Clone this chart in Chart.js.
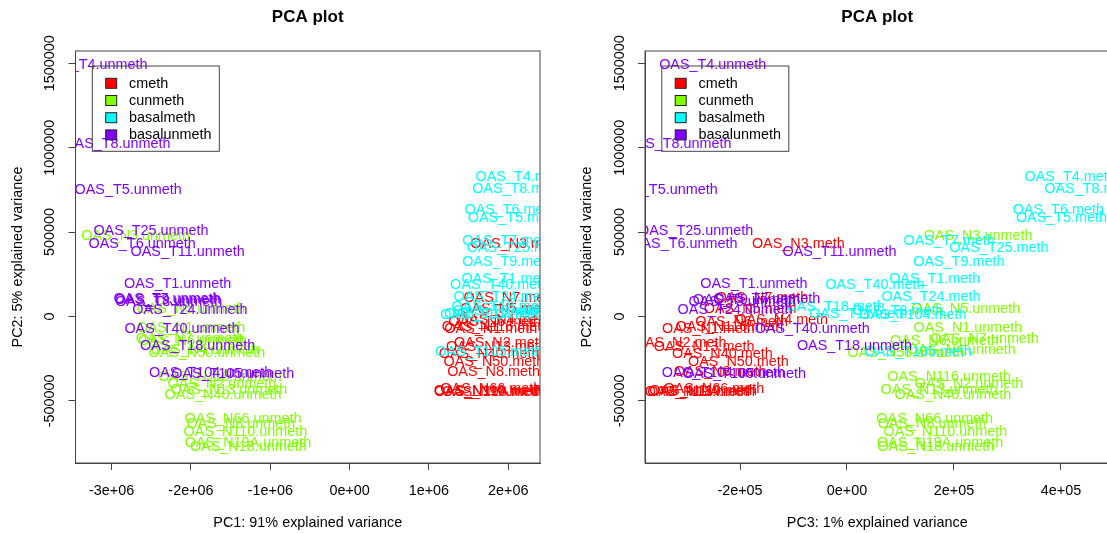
<!DOCTYPE html>
<html>
<head>
<meta charset="utf-8">
<script src="https://cdn.jsdelivr.net/npm/chart.js@4/dist/chart.umd.min.js"></script>
<style>
  html, body { margin: 0; padding: 0; background: #ffffff; overflow: hidden; }
  #wrap { position: relative; width: 1107px; height: 533px; overflow: hidden; background: #fff; }
  canvas { position: absolute; top: 0; }
</style>
</head>
<body>
<div id="wrap">
  <canvas id="c1" width="560" height="533" style="left:0px"></canvas>
  <canvas id="c2" width="560" height="533" style="left:560px"></canvas>
</div>
<script>
// ---------------- DATA ----------------
const groups = ['cmeth', 'cunmeth', 'basalmeth', 'basalunmeth'];
const groupColors = ['#FF0000', '#80FF00', '#00FFFF', '#8000FF'];

const nSamples = ['N3','N7','N5','N4','N6','N1','N116','N2','N13','N40','N50','N8','N66','N110','N19A','N18'];
const tSamples = ['T4','T8','T5','T25','T6','T11','T1','T7','T3','T9','T24','T40','T18','T104','T105'];

// cmeth (N samples, .meth)
const cmethPC1 = [2.107e6, 2.02e6, 1.98e6, 1.95e6, 1.83e6, 1.78e6, 1.84e6, 1.9e6, 1.85e6, 1.76e6, 1.82e6, 1.815e6, 1.78e6, 1.74e6, 1.76e6, 1.8e6];
const cmethPC2 = [0.432e6, 0.11e6, 0.045e6, -0.02e6, -0.03e6, -0.072e6, -0.06e6, -0.157e6, -0.18e6, -0.22e6, -0.27e6, -0.33e6, -0.43e6, -0.44e6, -0.445e6, -0.45e6];
const cmethPC3 = [-0.91e5, -1.59e5, -1.81e5, -1.22e5, -1.97e5, -2.59e5, -2.2e5, -3.12e5, -2.67e5, -2.33e5, -2.03e5, -2.37e5, -2.49e5, -2.69e5, -2.75e5, -2.79e5];

// cunmeth (N samples, .unmeth)
const cunmethPC1 = [-2.697e6, -2.01e6, -2.0e6, -1.827e6, -1.98e6, -2.0e6, -1.634e6, -1.609e6, -1.521e6, -1.596e6, -1.80e6, -1.37e6, -1.344e6, -1.313e6, -1.281e6, -1.277e6];
const cunmethPC2 = [0.478e6, -0.135e6, 0.045e6, -0.2e6, -0.145e6, -0.07e6, -0.36e6, -0.40e6, -0.435e6, -0.468e6, -0.215e6, -0.638e6, -0.606e6, -0.682e6, -0.751e6, -0.775e6];
const cunmethPC3 = [2.45e5, 2.57e5, 2.22e5, 2.14e5, 1.82e5, 2.26e5, 1.91e5, 2.28e5, 1.72e5, 1.98e5, 1.10e5, 1.59e5, 1.64e5, 1.84e5, 1.74e5, 1.66e5];

// basalmeth (T samples, .meth)
const basalmethPC1 = [2.162e6, 2.12e6, 2.066e6, 2.102e6, 2.023e6, 1.81e6, 1.985e6, 1.994e6, 1.88e6, 1.994e6, 1.935e6, 1.893e6, 1.91e6, 1.82e6, 1.757e6];
const basalmethPC2 = [0.825e6, 0.757e6, 0.582e6, 0.404e6, 0.631e6, 0.015e6, 0.223e6, 0.45e6, 0.03e6, 0.32e6, 0.115e6, 0.185e6, 0.058e6, 0.01e6, -0.212e6];
const basalmethPC3 = [4.17e5, 4.54e5, 4.01e5, 2.84e5, 3.95e5, 0.21e5, 1.64e5, 1.91e5, 0.95e5, 2.09e5, 1.57e5, 0.52e5, -0.22e5, 1.23e5, 1.33e5];

// basalunmeth (T samples, .unmeth)
const basalunmethPC1 = [-3.223e6, -2.933e6, -2.793e6, -2.504e6, -2.617e6, -2.042e6, -2.168e6, -2.302e6, -2.28e6, -2.29e6, -2.013e6, -2.113e6, -1.915e6, -1.753e6, -1.473e6];
const basalunmethPC2 = [1.490e6, 1.022e6, 0.749e6, 0.508e6, 0.427e6, 0.382e6, 0.195e6, 0.103e6, 0.087e6, 0.095e6, 0.037e6, -0.073e6, -0.174e6, -0.333e6, -0.34e6];
const basalunmethPC3 = [-2.51e5, -3.16e5, -3.42e5, -2.83e5, -3.05e5, -0.14e5, -1.74e5, -1.50e5, -1.96e5, -1.88e5, -2.09e5, -0.65e5, 0.14e5, -2.31e5, -1.92e5];

// axes
const yTickValues = [-500000, 0, 500000, 1000000, 1500000];
const yTickLabels = ['-500000', '0', '500000', '1000000', '1500000'];
const yRange = [-0.868e6, 1.573e6];
const pc1TickValues = [-3e6, -2e6, -1e6, 0, 1e6, 2e6];
const pc1TickLabels = ['-3e+06', '-2e+06', '-1e+06', '0e+00', '1e+06', '2e+06'];
const pc1Range = [-3.456e6, 2.401e6];
const pc3TickValues = [-2e5, 0, 2e5, 4e5];
const pc3TickLabels = ['-2e+05', '0e+00', '2e+05', '4e+05'];
const pc3Range = [-3.776e5, 4.907e5];

const plotTitle = 'PCA plot';
const yTitle = 'PC2: 5% explained variance';
const pc1Title = 'PC1: 91% explained variance';
const pc3Title = 'PC3: 1% explained variance';

// ---------------- BUILD ----------------
const FONT = "'Liberation Sans', Arial, Helvetica, sans-serif";

function pts(samples, xs, ys, suffix) {
  return samples.map((s, i) => ({ x: xs[i], y: ys[i], name: 'OAS_' + s + suffix }));
}

function datasetsFor(which) {
  const pick = (a1, a3) => which === 'pc1' ? a1 : a3;
  return [
    { label: groups[0], data: pts(nSamples, pick(cmethPC1, cmethPC3), cmethPC2, '.meth'), color: groupColors[0] },
    { label: groups[1], data: pts(nSamples, pick(cunmethPC1, cunmethPC3), cunmethPC2, '.unmeth'), color: groupColors[1] },
    { label: groups[2], data: pts(tSamples, pick(basalmethPC1, basalmethPC3), basalmethPC2, '.meth'), color: groupColors[2] },
    { label: groups[3], data: pts(tSamples, pick(basalunmethPC1, basalunmethPC3), basalunmethPC2, '.unmeth'), color: groupColors[3] }
  ].map(d => ({ label: d.label, data: d.data, pointRadius: 0, pointHoverRadius: 0,
                backgroundColor: d.color, borderColor: d.color, textColor: d.color }));
}

const rPlot = {
  id: 'rPlot',
  afterDatasetsDraw(chart) {
    const ctx = chart.ctx, ca = chart.chartArea;
    // point labels
    ctx.save();
    ctx.beginPath();
    ctx.rect(ca.left, ca.top, ca.right - ca.left, ca.bottom - ca.top);
    ctx.clip();
    ctx.font = '14.4px ' + FONT;
    ctx.textAlign = 'center';
    ctx.textBaseline = 'middle';
    chart.data.datasets.forEach((ds, di) => {
      const meta = chart.getDatasetMeta(di);
      ctx.fillStyle = ds.textColor;
      meta.data.forEach((el, i) => {
        ctx.fillText(ds.data[i].name, el.x, el.y);
      });
    });
    ctx.restore();

    // box
    ctx.save();
    ctx.strokeStyle = '#444';
    ctx.lineWidth = 1;
    ctx.strokeRect(ca.left, ca.top, ca.right - ca.left, ca.bottom - ca.top);
    ctx.restore();

    // legend
    ctx.save();
    const lx = ca.left + 16.8, ly = ca.top + 15, lw = 127, lh = 85.3;
    ctx.strokeStyle = '#444';
    ctx.lineWidth = 1;
    ctx.strokeRect(lx, ly, lw, lh);
    ctx.font = '14.4px ' + FONT;
    ctx.textAlign = 'left';
    ctx.textBaseline = 'middle';
    chart.data.datasets.forEach((ds, i) => {
      const ry = ly + 17.3 + i * 17.2;
      ctx.fillStyle = ds.textColor;
      ctx.fillRect(lx + 13.4, ry - 5, 11, 10);
      ctx.strokeStyle = '#222';
      ctx.strokeRect(lx + 13.4, ry - 5, 11, 10);
      ctx.fillStyle = '#000';
      ctx.fillText(ds.label, lx + 36.7, ry + 0.5);
    });
    ctx.restore();
  },
  afterDraw(chart, args, opts) {
    const ctx = chart.ctx, ca = chart.chartArea;
    const xs = chart.scales.x, ys = chart.scales.y;
    ctx.save();
    ctx.fillStyle = '#000';
    // title
    ctx.font = 'bold 17px ' + FONT;
    ctx.textAlign = 'center';
    ctx.textBaseline = 'middle';
    ctx.fillText(opts.title, (ca.left + ca.right) / 2, 17);
    // x tick labels
    ctx.font = '14.4px ' + FONT;
    xs.ticks.forEach((t, i) => {
      ctx.fillText(opts.xLabels[i], xs.getPixelForValue(t.value), 491);
    });
    // x title
    ctx.fillText(opts.xTitle, (ca.left + ca.right) / 2, 523);
    // y tick labels (rotated)
    ys.ticks.forEach((t, i) => {
      ctx.save();
      ctx.translate(ca.left - 25, ys.getPixelForValue(t.value));
      ctx.rotate(-Math.PI / 2);
      ctx.fillText(opts.yLabels[i], 0, 0);
      ctx.restore();
    });
    // y title
    ctx.save();
    ctx.translate(ca.left - 57.5, (ca.top + ca.bottom) / 2);
    ctx.rotate(-Math.PI / 2);
    ctx.fillText(opts.yTitle, 0, 0);
    ctx.restore();
    ctx.restore();
  }
};

function makeChart(id, which, xRange, xTicks, xLabels, xTitle, yAxisWidth, padRight) {
  return new Chart(document.getElementById(id), {
    type: 'scatter',
    data: { datasets: datasetsFor(which) },
    plugins: [rPlot],
    options: {
      responsive: false,
      animation: false,
      devicePixelRatio: 1,
      layout: { padding: { top: 51, right: padRight, left: 0, bottom: 0 } },
      plugins: {
        legend: { display: false },
        tooltip: { enabled: false },
        title: { display: false },
        rPlot: { title: plotTitle, xLabels: xLabels, yLabels: yTickLabels, xTitle: xTitle, yTitle: yTitle }
      },
      scales: {
        x: {
          type: 'linear', position: 'bottom', min: xRange[0], max: xRange[1],
          afterBuildTicks: s => { s.ticks = xTicks.map(v => ({ value: v })); },
          afterFit: s => { s.height = 70; },
          ticks: { display: false },
          grid: { display: true, drawOnChartArea: false, drawTicks: true, tickLength: 7, color: '#444', lineWidth: 1 },
          border: { display: true, color: '#444', width: 1 }
        },
        y: {
          type: 'linear', position: 'left', min: yRange[0], max: yRange[1],
          afterBuildTicks: s => { s.ticks = yTickValues.map(v => ({ value: v })); },
          afterFit: s => { s.width = yAxisWidth; },
          ticks: { display: false },
          grid: { display: true, drawOnChartArea: false, drawTicks: true, tickLength: 7, color: '#444', lineWidth: 1 },
          border: { display: true, color: '#444', width: 1 }
        }
      }
    }
  });
}

makeChart('c1', 'pc1', pc1Range, pc1TickValues, pc1TickLabels, pc1Title, 75.5, 20);
makeChart('c2', 'pc3', pc3Range, pc3TickValues, pc3TickLabels, pc3Title, 85, 10.5);
</script>
</body>
</html>
